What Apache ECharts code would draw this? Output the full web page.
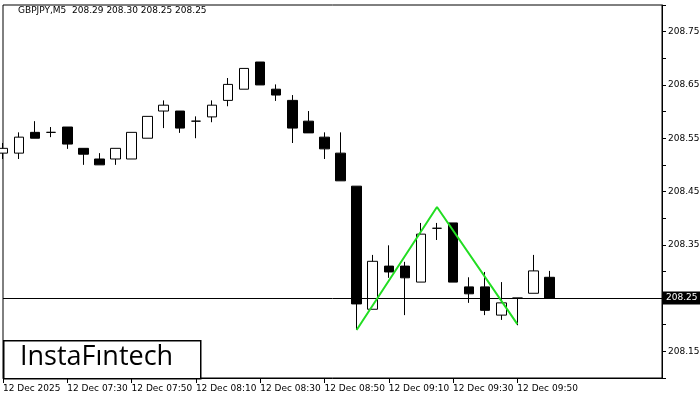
<!DOCTYPE html>
<html><head><meta charset="utf-8">
<script src="https://cdn.jsdelivr.net/npm/echarts@6/dist/echarts.min.js"></script>
<style>html,body{margin:0;padding:0;background:#fff}#c{width:700px;height:400px}</style>
</head><body><div id="c"></div>
<script>
// time labels (5-minute bars, 12 Dec 2025, starting 07:10)
const times = ["07:10","07:15","07:20","07:25","07:30","07:35","07:40","07:45","07:50","07:55","08:00","08:05","08:10","08:15","08:20","08:25","08:30","08:35","08:40","08:45","08:50","08:55","09:00","09:05","09:10","09:15","09:20","09:25","09:30","09:35","09:40","09:45","09:50","09:55","10:00","10:05","10:10","10:15","10:20","10:25","10:30","10:35"];
const opens  = [208.522,208.522,208.561,208.561,208.571,208.531,208.511,208.511,208.511,208.550,208.601,208.601,208.582,208.590,208.621,208.642,208.693,208.642,208.621,208.582,208.552,208.522,208.460,208.229,208.310,208.310,208.280,208.381,208.391,208.271,208.271,208.218,208.250,208.259,208.289];
const closes = [208.531,208.552,208.550,208.561,208.539,208.520,208.500,208.531,208.561,208.591,208.612,208.569,208.582,208.612,208.651,208.681,208.650,208.631,208.569,208.560,208.530,208.470,208.239,208.319,208.299,208.288,208.370,208.381,208.280,208.258,208.227,208.241,208.250,208.301,208.250];
const lows   = [208.511,208.511,208.550,208.552,208.530,208.500,208.500,208.500,208.511,208.550,208.569,208.560,208.550,208.580,208.610,208.642,208.650,208.620,208.541,208.560,208.511,208.470,208.190,208.229,208.288,208.218,208.280,208.359,208.280,208.241,208.218,208.209,208.199,208.259,208.250];
const highs  = [208.541,208.561,208.582,208.571,208.571,208.531,208.522,208.531,208.561,208.591,208.621,208.601,208.591,208.621,208.663,208.681,208.693,208.651,208.631,208.601,208.561,208.561,208.460,208.331,208.349,208.318,208.391,208.391,208.391,208.289,208.299,208.280,208.250,208.331,208.301];
const patternIdx = [22, 27, 32];
const patternVals = [208.190, 208.421, 208.201];
const lastPrice = 208.25;

const candles = opens.map((o,i)=>[o, closes[i], lows[i], highs[i]]);
const chart = echarts.init(document.getElementById('c'));
chart.setOption({
  animation:false,
  grid:{left:3,right:38,top:5,bottom:22,outerBoundsMode:'none',containLabel:false,show:true,borderColor:'#000',borderWidth:1},
  xAxis:{type:'category',data:times,boundaryGap:false,
    axisLine:{lineStyle:{color:'#000'}},axisTick:{show:true,interval:(i)=>i%4===0&&i<=32,lineStyle:{color:'#000'}},
    axisLabel:{interval:(i)=>i%4===0&&i<=32,align:'left',color:'#000',fontSize:9,fontFamily:'DejaVu Sans',margin:6,
      formatter:(v,i)=> i===0?'12 Dec 2025':'12 Dec '+v},
    splitLine:{show:false}},
  yAxis:{type:'value',position:'right',min:208.10,max:208.80,interval:0.05,scale:true,
    axisLine:{show:true,lineStyle:{color:'#000'}},axisTick:{show:true,lineStyle:{color:'#000'},length:4},
    axisLabel:{color:'#000',fontSize:9,fontFamily:'DejaVu Sans',margin:6,
      formatter:v=>{const k=Math.round(v*100)%10;return k===5?v.toFixed(2):'';}},
    splitLine:{show:false}},
  series:[
    {type:'candlestick',data:candles,barWidth:10,
     itemStyle:{color:'#fff',color0:'#000',borderColor:'#000',borderColor0:'#000',borderWidth:1},
     markLine:{silent:true,symbol:'none',
       lineStyle:{color:'#000',width:1,type:'solid'},
       label:{show:true,position:'end',formatter:lastPrice.toFixed(2),backgroundColor:'#000',color:'#fff',
         fontSize:9,fontFamily:'DejaVu Sans',padding:[2,3],distance:1},
       data:[{yAxis:lastPrice}]}},
    {type:'line',data:patternIdx.map((x,i)=>[x,patternVals[i]]),symbol:'none',
     lineStyle:{color:'#22dd22',width:2},z:5}
  ],
  graphic:[
    {type:'text',left:18,top:6,style:{text:'GBPJPY,M5  208.29 208.30 208.25 208.25',fontSize:9,fontFamily:'DejaVu Sans',fill:'#000'}},
    {type:'rect',left:3,top:340,shape:{width:197,height:38},style:{fill:'#fff',stroke:'#000',lineWidth:1.5},z:10},
    {type:'text',left:20,top:344,style:{text:'InstaFıntech',fontSize:27,fontWeight:500,fontFamily:'Open Sans',fill:'#000'},z:11}
  ]
});
</script></body></html>
